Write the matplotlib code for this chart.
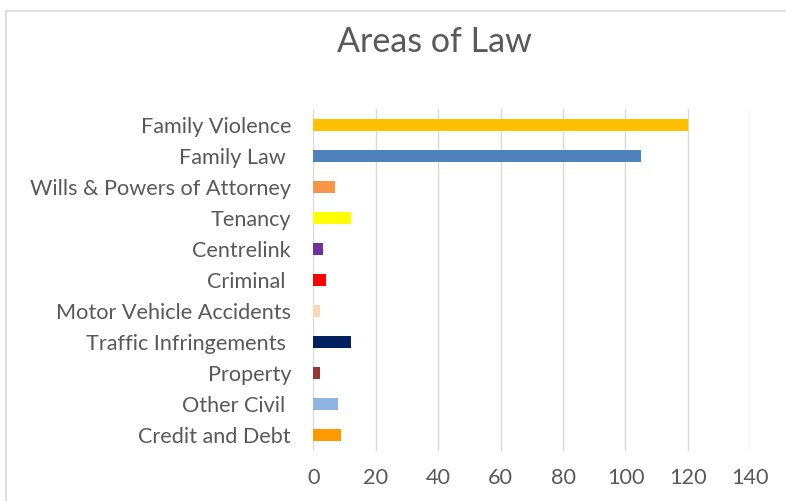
import matplotlib
matplotlib.use("Agg")
import matplotlib.pyplot as plt
from matplotlib.lines import Line2D

categories = ["Family Violence", "Family Law ", "Wills & Powers of Attorney", "Tenancy",
              "Centrelink", "Criminal ", "Motor Vehicle Accidents", "Traffic Infringements ",
              "Property", "Other Civil ", "Credit and Debt"]
values = [120, 105, 7, 12, 3, 4, 2, 12, 2, 8, 9]
colors = ["#FFC000", "#4F81BD", "#F79646", "#FFFF00", "#7030A0", "#FF0000",
          "#FCD5B4", "#002060", "#953735", "#8DB4E2", "#FF9900"]
xticks = [0, 20, 40, 60, 80, 100, 120, 140]

plt.rcParams['font.family'] = ['Lato', 'DejaVu Sans']
W, H = 786, 501
fig = plt.figure(figsize=(W/100, H/100), dpi=100)
left, right, top, bottom = 313.3, 750.3, 109.3, 450.7
ax = fig.add_axes([left/W, 1-bottom/H, (right-left)/W, (bottom-top)/H])

ypos = list(range(len(categories)))
ax.barh(ypos, values, height=0.38, color=colors, zorder=3)
ax.set_ylim(len(categories)-0.5, -0.5)
ax.set_xlim(0, 140)
ax.set_xticks(xticks)
ax.set_yticks(ypos)
ax.set_yticklabels(categories)
for s in ax.spines.values():
    s.set_visible(False)
ax.grid(axis='x', color='#d9d9d9', linewidth=1.0, zorder=0)
ax.tick_params(axis='both', length=0, colors='#595959', labelsize=15.6)
ax.tick_params(axis='y', pad=16)
ax.tick_params(axis='x', pad=12.5)

fig.text(434/W, 1-42/H, "Areas of Law", ha='center', va='center', fontsize=24.5, color='#595959')

fig.add_artist(Line2D([6.5/W, 1], [1-10.5/H, 1-10.5/H], color='#d9d9d9', linewidth=1.2, transform=fig.transFigure))
fig.add_artist(Line2D([6.5/W, 6.5/W], [0, 1-10.5/H], color='#d9d9d9', linewidth=1.2, transform=fig.transFigure))

fig.savefig("out.png", dpi=100)
